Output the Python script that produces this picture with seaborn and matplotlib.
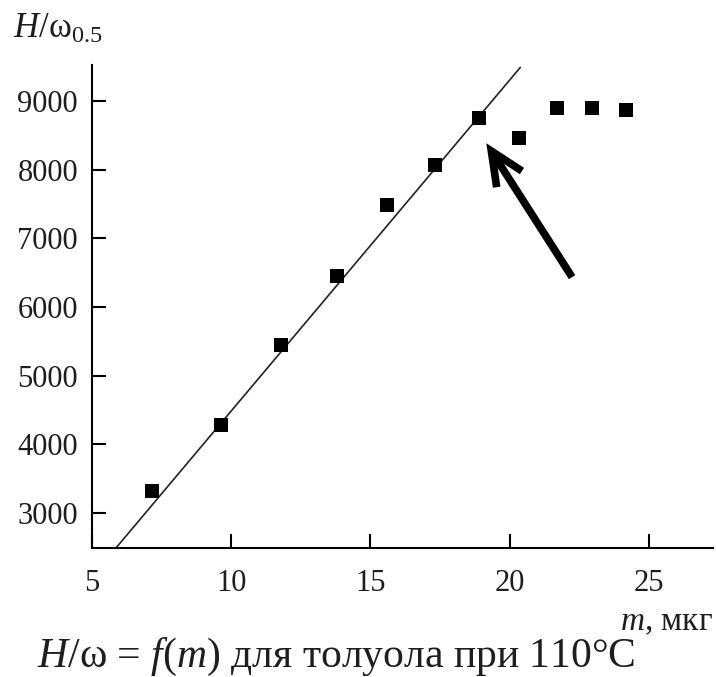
import matplotlib
matplotlib.use("Agg")
import matplotlib.pyplot as plt
import seaborn as sns
import numpy as np
import pandas as pd

# data
m_values = [7.15, 9.62, 11.8, 13.78, 15.6, 17.33, 18.9, 20.34, 21.7, 22.96, 24.17]
h_values = [3320, 4281, 5445, 6450, 7483, 8065, 8750, 8460, 8895, 8895, 8866]
fit_x = [5.86, 20.38]
fit_slope = 482.0
fit_y0 = 2490.0
arrow_tail = (22.24, 6435)
arrow_head = (19.16, 8385)
x_ticks = [5, 10, 15, 20, 25]
y_ticks = [3000, 4000, 5000, 6000, 7000, 8000, 9000]

sns.set_theme(style="white")
plt.rcParams['font.family'] = ['Liberation Serif', 'DejaVu Serif']
plt.rcParams['mathtext.fontset'] = 'custom'
plt.rcParams['mathtext.rm'] = 'Liberation Serif'
plt.rcParams['mathtext.it'] = 'Liberation Serif:italic'

TXT = "#1e1e1e"

fig = plt.figure(figsize=(7.16, 6.77), dpi=100)
ax = fig.add_axes([92/716, 1-548/677, (713-92)/716, (548-65)/677])

df = pd.DataFrame({"m": m_values, "h": h_values})
fx = np.array(fit_x)
fit_df = pd.DataFrame({"m": fx, "h": fit_y0 + fit_slope * (fx - fit_x[0])})

sns.lineplot(data=fit_df, x="m", y="h", ax=ax, color="#222222", lw=1.2)
sns.scatterplot(data=df, x="m", y="h", ax=ax, marker="s", s=110, color="black",
                edgecolor="black", linewidth=0, zorder=3)

ax.annotate("", xy=arrow_head, xytext=arrow_tail,
            arrowprops=dict(arrowstyle="->,head_length=2.0,head_width=0.9",
                            lw=5.5, color="black", shrinkA=0, shrinkB=0,
                            joinstyle="miter", capstyle="butt"))

ax.set_xlim(5, 27.3)
ax.set_ylim(2490, 9524)
ax.set_xticks(x_ticks)
ax.set_yticks(y_ticks)
ax.set_xlabel("")
ax.set_ylabel("")
for s in ["top", "right"]:
    ax.spines[s].set_visible(False)
for s in ["left", "bottom"]:
    ax.spines[s].set_color("black")
    ax.spines[s].set_linewidth(1.5)
ax.tick_params(direction="in", length=10, width=1.5, colors="black",
               labelsize=22, labelcolor=TXT, left=True, bottom=True)
ax.tick_params(axis="y", pad=10)
ax.tick_params(axis="x", pad=15)

fig.text(13/716, 1-38/677, "$H$/ω$_{0.5}$", fontsize=25, va="baseline", ha="left", color=TXT)
fig.text(713/716, 1-630/677, "$m$, мкг", fontsize=24, va="baseline", ha="right", color=TXT)
fig.text(37/716, 1-667/677, "$H$/ω = $f$($m$) для толуола при 110°C", fontsize=30,
         va="baseline", ha="left", color=TXT)

fig.savefig("out.png", dpi=100, facecolor="white")
